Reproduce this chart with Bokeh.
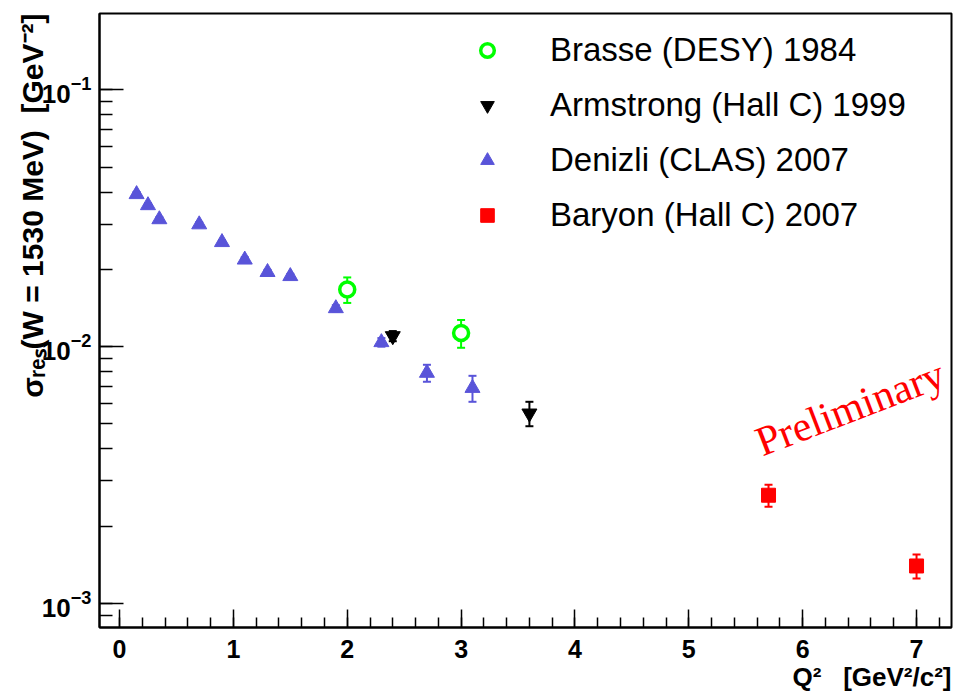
from bokeh.plotting import figure
from bokeh.models import (ColumnDataSource, Whisker, TeeHead, Label, Legend, LegendItem,
                          SingleIntervalTicker, Range1d, Title)
from bokeh.core.properties import value
from bokeh.embed import file_html
from bokeh.resources import INLINE

# ---------------- data ----------------
brasse_q2 = [2.0, 3.0]
brasse_sig = [0.0167, 0.0113]
brasse_err = [0.0019, 0.0014]

armstrong_q2 = [2.4, 3.6]
armstrong_sig = [0.0110, 0.0055]
armstrong_err = [0.0005, 0.0006]

denizli_q2 = [0.15, 0.25, 0.35, 0.7, 0.9, 1.1, 1.3, 1.5, 1.9, 2.3, 2.7, 3.1]
denizli_sig = [0.0392, 0.0355, 0.0313, 0.0299, 0.0255, 0.0218, 0.0195, 0.0188,
               0.0141, 0.0104, 0.0079, 0.0069]
denizli_err = [0.0008, 0.0007, 0.0006, 0.0006, 0.0005, 0.0005, 0.0004, 0.0004,
               0.0004, 0.0004, 0.0006, 0.0008]

baryon_q2 = [5.7, 7.0]
baryon_sig = [0.00264, 0.00140]
baryon_err = [0.00026, 0.00015]

series_labels = ["Brasse (DESY) 1984", "Armstrong (Hall C) 1999",
                 "Denizli (CLAS) 2007", "Baryon (Hall C) 2007"]
x_title = "Q²\u00a0\u00a0\u00a0[GeV²/c²]"
y_title = "σᵣₑₛ(W = 1530 MeV)\u00a0\u00a0[GeV⁻²]"

# ---------------- layout ----------------
X0, X1 = -0.1757, 7.307
Y0, Y1 = 8.065e-4, 0.1982
FL, FR, FT, FB = 99, 951, 13, 627  # frame pixel edges


def xd(px):
    return X0 + (px - FL) / (FR - FL) * (X1 - X0)


def yd(py):
    import math
    l0, l1 = math.log10(Y0), math.log10(Y1)
    return 10 ** (l1 - (py - FT) / (FB - FT) * (l1 - l0))


p = figure(width=953, height=697, y_axis_type="log",
           x_range=Range1d(X0, X1), y_range=Range1d(Y0, Y1),
           output_backend="svg", toolbar_location=None,
           min_border_left=FL, min_border_right=953 - FR,
           min_border_top=FT, min_border_bottom=697 - FB)

p.background_fill_color = "white"
p.border_fill_color = "white"
p.outline_line_color = "black"
p.outline_line_width = 2
p.grid.visible = False

p.xaxis.ticker = SingleIntervalTicker(interval=1, num_minor_ticks=5)
for ax in (p.xaxis[0], p.yaxis[0]):
    ax.axis_line_color = "black"
    ax.axis_line_width = 2
    ax.major_tick_line_color = "black"
    ax.minor_tick_line_color = "black"
    ax.major_tick_line_width = 1.5
    ax.minor_tick_line_width = 1.5
    ax.major_tick_out = 0
    ax.minor_tick_out = 0
    ax.major_label_text_font = "Liberation Sans"
    ax.major_label_text_font_style = "bold"
    ax.major_label_text_color = "black"

p.xaxis.major_tick_in = 18
p.xaxis.minor_tick_in = 10
p.xaxis.major_label_text_font_size = "25px"
p.xaxis.major_label_standoff = 12

p.yaxis.major_tick_in = 24
p.yaxis.minor_tick_in = 13
p.yaxis.major_label_text_font_size = "26px"
p.yaxis.major_label_standoff = 8

# axis titles as side titles, right/top aligned like the reference
tx = Title(text=x_title, align="right", text_font="Liberation Sans",
           text_font_size="26px", text_font_style="bold", text_color="black",
           standoff=-2, offset=0)
p.add_layout(tx, "below")

ty = Title(text=y_title, align="right", text_font="Liberation Sans",
           text_font_size="30px", text_font_style="bold", text_color="black",
           offset=0, standoff=-20)
p.add_layout(ty, "left")


def add_series(xs, ys, errs, marker, size, fill, line, lw):
    src = ColumnDataSource(dict(x=xs, y=ys,
                                lo=[a - b for a, b in zip(ys, errs)],
                                hi=[a + b for a, b in zip(ys, errs)]))
    w = Whisker(source=src, base="x", upper="hi", lower="lo", dimension="height",
                line_color=line, line_width=2,
                upper_head=TeeHead(size=8, line_color=line, line_width=2),
                lower_head=TeeHead(size=8, line_color=line, line_width=2))
    p.add_layout(w)
    return p.scatter("x", "y", source=src, marker=marker, size=size,
                     fill_color=fill, line_color=line, line_width=lw)


GREEN = "#00ff00"
BLUE = "#5954d9"
RED = "#ff0000"

r_d = add_series(denizli_q2, denizli_sig, denizli_err, "triangle", 15, BLUE, BLUE, 1)
r_a = add_series(armstrong_q2, armstrong_sig, armstrong_err, "inverted_triangle", 15,
                 "black", "black", 1)
r_b = add_series(brasse_q2, brasse_sig, brasse_err, "circle", 15, "white", GREEN, 3.5)
r_r = add_series(baryon_q2, baryon_sig, baryon_err, "square", 14, RED, RED, 1)

legend = Legend(items=[LegendItem(label=value(series_labels[0]), renderers=[r_b]),
                       LegendItem(label=value(series_labels[1]), renderers=[r_a]),
                       LegendItem(label=value(series_labels[2]), renderers=[r_d]),
                       LegendItem(label=value(series_labels[3]), renderers=[r_r])],
                location=(371, 392), orientation="vertical")
legend.label_text_font = "Liberation Sans"
legend.label_text_font_size = "33px"
legend.label_text_color = "black"
legend.glyph_width = 34
legend.glyph_height = 40
legend.label_height = 40
legend.spacing = 15
legend.label_standoff = 46
legend.padding = 0
legend.margin = 0
legend.border_line_color = None
legend.background_fill_alpha = 0
p.add_layout(legend)

p.add_layout(Label(x=xd(757), y=yd(443), text="Preliminary", angle=21, angle_units="deg",
                   text_font="Liberation Serif", text_font_size="42px", text_color="red",
                   text_align="left", text_baseline="alphabetic"))

open("out.html", "w").write(file_html(p, INLINE))
